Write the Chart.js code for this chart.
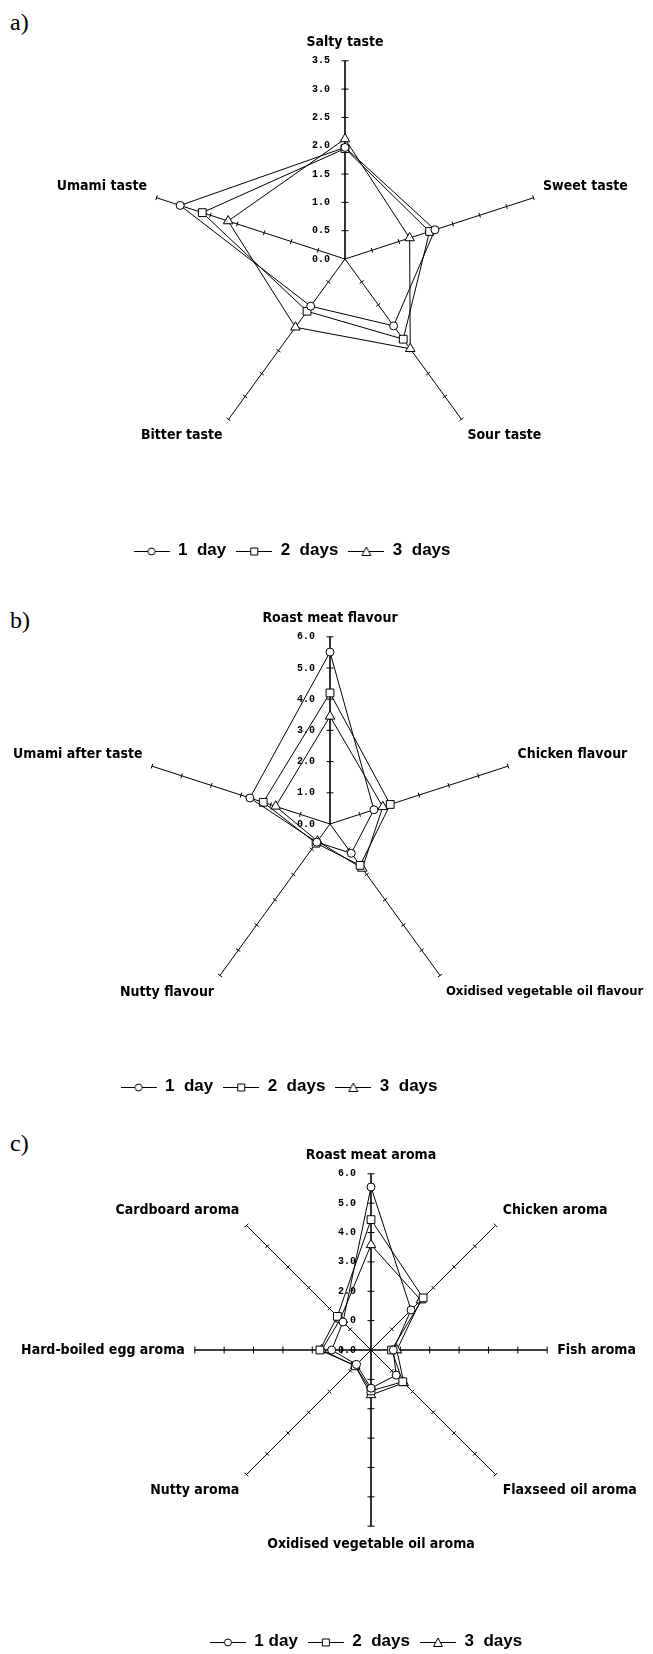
<!DOCTYPE html>
<html>
<head>
<meta charset="utf-8">
<script src="https://cdn.jsdelivr.net/npm/chart.js"></script>
<style>
    html, body { margin: 0; padding: 0; background: #fff; }
    body { width: 653px; height: 1654px; overflow: hidden; position: relative; }
    canvas { position: absolute; }
    .panel { position: absolute; left: 10px; font-family: "Liberation Serif", "Times New Roman", serif; font-size: 24px; line-height: 24px; color: #000; }
</style>
</head>
<body>
<div class="panel" style="top: 10px">a)</div>
<div class="panel" style="top: 608px">b)</div>
<div class="panel" style="top: 1131px">c)</div>
<canvas id="sabor" width="800" height="569" style="left: -55px; top: 0px"></canvas>
<canvas id="flavor" width="800" height="530" style="left: -70px; top: 575px"></canvas>
<canvas id="aroma" width="800" height="550" style="left: -29px; top: 1110px"></canvas>
<script>
//a) sabores
const etiquetasA = ["Salty taste", "Sweet taste", "Sour taste", "Bitter taste", "Umami taste"];
const dia1A = [1.97, 1.67, 1.46, 1.03, 3.06];
const dia2A = [1.95, 1.57, 1.75, 1.14, 2.65];
const dia3A = [2.12, 1.2, 1.96, 1.49, 2.17];
const escalaA = [0, 3.5, 0.5]; // min, max, paso

//b) flavour
const etiquetasB = ["Roast meat flavour", "Chicken flavour", "Oxidised vegetable oil flavour", "Nutty flavour", "Umami after taste"];
const dia1B = [5.51, 1.48, 1.16, 0.72, 2.7];
const dia2B = [4.2, 2.03, 1.64, 0.76, 2.25];
const dia3B = [3.45, 1.78, 1.76, 0.68, 1.83];
const escalaB = [0, 6, 1];

//c) aromas
const etiquetasC = ["Roast meat aroma", "Chicken aroma", "Fish aroma", "Flaxseed oil aroma", "Oxidised vegetable oil aroma", "Nutty aroma", "Hard-boiled egg aroma", "Cardboard aroma"];
const dia1C = [5.55, 1.93, 0.76, 1.21, 1.3, 0.7, 1.34, 1.35];
const dia2C = [4.44, 2.51, 0.7, 1.53, 1.39, 0.76, 1.74, 1.62];
const dia3C = [3.58, 2.4, 0.88, 1.58, 1.53, 0.76, 1.68, 1.48];
const escalaC = [0, 6, 1];

const leyendaAB = ["1  day", "2  days", "3  days"];
const leyendaC = ["1 day", "2  days", "3  days"];

const formas = ["circle", "rect", "triangle"];
const radios = [4, 5.5, 5.5];

//Iconos de la leyenda: linea con el marcador al medio
function icono(forma) {
    const c = document.createElement("canvas");
    c.width = 36;
    c.height = 13;
    const ctx = c.getContext("2d");
    ctx.strokeStyle = "#000";
    ctx.fillStyle = "#fff";
    ctx.lineWidth = 1;
    ctx.beginPath();
    ctx.moveTo(0, 7.5);
    ctx.lineTo(36, 7.5);
    ctx.stroke();
    ctx.beginPath();
    if (forma === "circle") {
        ctx.arc(18, 7.5, 3.5, 0, Math.PI * 2);
    } else if (forma === "rect") {
        ctx.rect(14.5, 4, 7, 7);
    } else {
        ctx.moveTo(18, 3);
        ctx.lineTo(22.5, 11.5);
        ctx.lineTo(13.5, 11.5);
        ctx.closePath();
    }
    ctx.fill();
    ctx.stroke();
    return c;
}
const iconos = formas.map(icono);

//Marcas y numeros sobre los ejes
const marcas = {
    id: "marcas",
    beforeDatasetsDraw(chart, args, opts) {
        const r = chart.scales.r;
        const ctx = chart.ctx;
        const n = chart.data.labels.length;
        ctx.save();
        ctx.strokeStyle = "#000";
        ctx.lineWidth = 1;
        for (let i = 0; i < n; i++) {
            const a = r.getIndexAngle(i);
            const px = Math.cos(a);
            const py = Math.sin(a);
            const largo = opts.gruesos.includes(i) ? 3.5 : 2.5;
            r.ticks.forEach((t) => {
                if (t.value === 0) return;
                const p = r.getPointPositionForValue(i, t.value);
                ctx.beginPath();
                ctx.moveTo(p.x - px * largo, p.y - py * largo);
                ctx.lineTo(p.x + px * largo, p.y + py * largo);
                ctx.stroke();
            });
        }
        ctx.font = "bold 10px 'Liberation Mono', 'DejaVu Sans Mono', monospace";
        ctx.fillStyle = "#000";
        ctx.textAlign = "right";
        ctx.textBaseline = "middle";
        r.ticks.forEach((t) => {
            const p = r.getPointPositionForValue(0, t.value);
            ctx.fillText(t.label, p.x - 15, p.y);
        });
        ctx.restore();
    },
};

//Mueve la leyenda en horizontal
const moverLeyenda = {
    id: "moverLeyenda",
    afterLayout(chart, args, opts) {
        const lg = chart.legend;
        if (lg && opts.dx) {
            lg.left += opts.dx;
            lg.right += opts.dx;
        }
    },
};

function radar(id, etiquetas, d1, d2, d3, nombres, escala, conf) {
    const datos = [d1, d2, d3];
    new Chart(document.getElementById(id), {
        type: "radar",
        data: {
            labels: etiquetas,
            datasets: datos.map((d, k) => ({
                label: nombres[k],
                data: d,
                fill: false,
                borderColor: "#000",
                borderWidth: 1,
                pointStyle: formas[k],
                pointRadius: radios[k],
                pointBackgroundColor: "#fff",
                pointBorderColor: "#000",
                pointBorderWidth: 1,
            })),
        },
        plugins: [marcas, moverLeyenda],
        options: {
            responsive: false,
            animation: false,
            events: [],
            layout: {
                padding: { top: conf.arriba, bottom: 0, left: 0, right: 0 },
            },
            scales: {
                r: {
                    min: escala[0],
                    max: escala[1],
                    ticks: {
                        stepSize: escala[2],
                        display: false,
                        callback: (v) => v.toFixed(1),
                    },
                    grid: { display: false },
                    angleLines: {
                        color: "#000",
                        lineWidth: (c) => (conf.gruesos.includes(c.index) ? 1.6 : 1),
                    },
                    pointLabels: {
                        color: "#000",
                        padding: 10,
                        font: (c) => ({
                            family: "'Liberation Sans Narrow', 'DejaVu Sans Condensed', 'Liberation Sans', sans-serif",
                            size: c.index === conf.chica ? 13 : 14,
                            weight: "bold",
                        }),
                    },
                },
            },
            plugins: {
                tooltip: { enabled: false },
                marcas: { gruesos: conf.gruesos },
                moverLeyenda: { dx: conf.dx },
                legend: {
                    position: "bottom",
                    title: {
                        display: true,
                        text: "",
                        padding: { top: conf.espacio, bottom: 0 },
                        font: { size: 10 },
                    },
                    labels: {
                        usePointStyle: true,
                        pointStyleWidth: 36,
                        color: "#000",
                        padding: 10,
                        font: {
                            family: "'Liberation Sans', Arial, sans-serif",
                            size: 17,
                            weight: "bold",
                        },
                        generateLabels: (chart) =>
                            Chart.defaults.plugins.legend.labels.generateLabels(chart).map((item, k) => ({
                                ...item,
                                pointStyle: iconos[k],
                            })),
                    },
                },
            },
        },
    });
}

radar("sabor", etiquetasA, dia1A, dia2A, dia3A, leyendaAB, escalaA, { arriba: 21, espacio: 49, dx: -53, gruesos: [0], chica: -1 });
radar("flavor", etiquetasB, dia1B, dia2B, dia3B, leyendaAB, escalaB, { arriba: 22, espacio: 31, dx: -51, gruesos: [0], chica: 2 });
radar("aroma", etiquetasC, dia1C, dia2C, dia3C, leyendaC, escalaC, { arriba: 38, espacio: 57, dx: -5, gruesos: [0, 2, 4, 6], chica: -1 });
</script>
</body>
</html>
